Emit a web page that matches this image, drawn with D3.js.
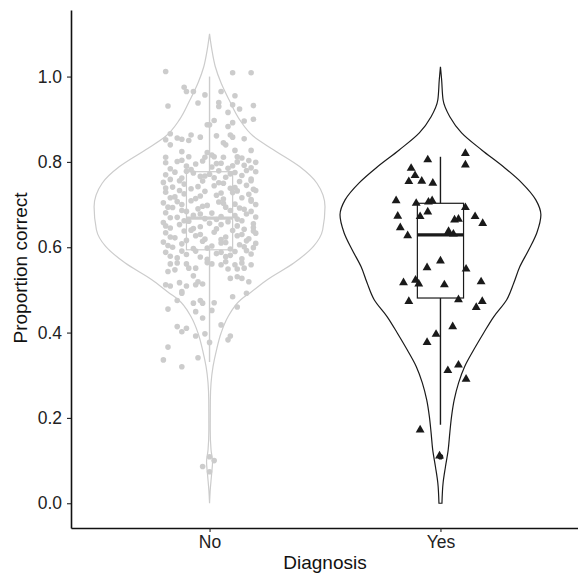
<!DOCTYPE html>
<html>
<head>
<meta charset="utf-8">
<script src="https://cdn.jsdelivr.net/npm/d3@7"></script>
<style>
  body { margin: 0; background: #fff; }
  text { font-family: "Liberation Sans", Arial, sans-serif; }
</style>
</head>
<body>
<svg id="chart" width="578" height="575"></svg>
<script>
// categories + tick labels
const categories = ["No", "Yes"];
const yTicks = [0, 0.2, 0.4, 0.6, 0.8, 1.0];

// violin outlines: [value, relative half-width]
const violinNo = [[1.100,0],[1.063,0.02],[1.023,0.05],[0.985,0.10],[0.945,0.17],[0.899,0.26],[0.860,0.38],
  [0.829,0.55],[0.789,0.78],[0.750,0.93],[0.695,1.00],[0.641,0.98],[0.602,0.90],[0.563,0.73],[0.524,0.50],
  [0.493,0.35],[0.477,0.27],[0.437,0.16],[0.399,0.10],[0.359,0.06],[0.320,0.03],[0.282,0.013],[0.242,0.007],
  [0.172,0.006],[0.125,0.013],[0.097,0.026],[0.066,0.017],[0.031,0.006],[0,0]];
const violinYes = [[1.023,0],[0.993,0.01],[0.945,0.023],[0.906,0.081],[0.868,0.183],[0.828,0.357],[0.788,0.548],
  [0.751,0.704],[0.711,0.826],[0.676,0.870],[0.634,0.835],[0.594,0.765],[0.554,0.687],[0.516,0.635],[0.477,0.574],
  [0.437,0.461],[0.399,0.374],[0.359,0.287],[0.320,0.209],[0.282,0.157],[0.242,0.119],[0.203,0.096],[0.165,0.081],
  [0.125,0.067],[0.085,0.043],[0.048,0.023],[0.0,0.013]];

// box stats per category
const whiskerLow = [0.331, 0.184];
const q1 = [0.594, 0.481];
const median = [0.668, 0.629];
const q3 = [0.777, 0.703];
const whiskerHigh = [1.0, 0.812];
const outliersYes = [0.109];

// jittered observations: [value, jitter in category units]
const pointsNo = [
  [1.012,-0.19],[1.009,0.10],[1.009,0.18],[0.975,-0.11],[0.965,-0.10],[0.965,-0.07],[0.957,-0.02],[0.965,0.05],
  [0.955,0.11],[0.931,-0.18],[0.938,-0.05],[0.939,0.04],[0.930,0.04],[0.934,0.10],[0.932,0.19],[0.924,0.13],
  [0.916,0.08],[0.897,0.02],[0.887,-0.01],[0.887,0.00],[0.892,0.10],[0.883,0.08],[0.896,0.15],[0.900,0.19],
  [0.863,-0.08],[0.858,-0.04],[0.861,0.03],[0.863,0.09],[0.858,0.10],[0.854,0.15],[0.866,-0.17],[0.856,-0.14],
  [0.852,-0.19],[0.853,-0.12],[0.850,-0.09],[0.840,-0.17],[0.845,0.06],[0.840,0.07],[0.827,0.18],[0.827,0.11],
  [0.824,-0.12],[0.822,-0.01],[0.816,0.01],[0.812,-0.09],[0.811,-0.02],[0.811,0.06],[0.812,0.12],[0.809,0.14],
  [0.811,-0.19],[0.812,0.02],
  [0.798,-0.19],[0.801,-0.14],[0.790,-0.10],[0.795,-0.06],[0.802,-0.03],[0.788,0.01],[0.797,0.05],[0.785,0.08],
  [0.800,0.12],[0.792,0.15],[0.786,0.18],[0.799,0.20],[0.784,-0.17],[0.782,-0.08],[0.796,0.03],[0.791,0.10],
  [0.803,0.17],[0.804,-0.12],
  [0.770,-0.19],[0.776,-0.15],[0.762,-0.12],[0.774,-0.07],[0.766,-0.04],[0.771,0.00],[0.779,0.04],[0.764,0.07],
  [0.775,0.11],[0.768,0.14],[0.760,0.18],[0.777,0.20],[0.759,-0.17],[0.778,-0.10],[0.763,0.02],[0.772,0.09],
  [0.780,0.16],[0.767,-0.02],
  [0.752,-0.20],[0.741,-0.16],[0.748,-0.11],[0.737,-0.08],[0.755,-0.03],[0.744,0.02],[0.750,0.06],[0.738,0.09],
  [0.754,0.13],[0.745,0.16],[0.736,0.19],[0.739,-0.19],[0.756,-0.13],[0.742,-0.05],[0.751,0.04],[0.740,0.11],
  [0.756,0.18],
  [0.729,-0.19],[0.718,-0.15],[0.725,-0.11],[0.714,-0.06],[0.731,-0.02],[0.722,0.03],[0.713,0.06],[0.728,0.10],
  [0.716,0.14],[0.724,0.17],[0.733,0.20],[0.716,-0.17],[0.733,-0.13],[0.720,-0.04],[0.727,0.05],[0.732,0.12],
  [0.712,0.18],
  [0.704,-0.20],[0.693,-0.16],[0.700,-0.12],[0.709,-0.08],[0.690,-0.05],[0.698,-0.01],[0.706,0.04],[0.694,0.07],
  [0.701,0.11],[0.689,0.15],[0.708,0.18],[0.694,-0.18],[0.707,-0.14],[0.696,-0.03],[0.703,0.06],[0.692,0.13],
  [0.700,0.20],
  [0.681,-0.19],[0.670,-0.14],[0.684,-0.10],[0.675,-0.07],[0.667,-0.02],[0.680,0.01],[0.672,0.05],[0.686,0.09],
  [0.666,0.12],[0.678,0.16],[0.671,0.20],[0.669,-0.17],[0.686,-0.12],[0.678,-0.04],[0.665,0.03],[0.674,0.11],
  [0.684,0.18],
  [0.658,-0.20],[0.645,-0.17],[0.653,-0.13],[0.661,-0.09],[0.648,-0.04],[0.656,0.00],[0.643,0.03],[0.660,0.08],
  [0.650,0.12],[0.642,0.15],[0.655,0.19],[0.650,-0.19],[0.662,-0.11],[0.644,-0.07],[0.653,0.05],[0.662,0.14],
  [0.646,0.19],
  [0.634,-0.19],[0.622,-0.15],[0.638,-0.11],[0.627,-0.06],[0.619,-0.02],[0.635,0.02],[0.624,0.07],[0.639,0.10],
  [0.630,0.14],[0.620,0.17],[0.633,0.20],[0.624,-0.17],[0.640,-0.08],[0.630,-0.04],[0.618,0.05],[0.627,0.12],
  [0.638,0.19],
  [0.612,-0.20],[0.600,-0.16],[0.608,-0.12],[0.597,-0.07],[0.614,-0.03],[0.603,0.01],[0.610,0.05],[0.596,0.09],
  [0.606,0.13],[0.615,0.16],[0.599,0.19],[0.604,-0.18],[0.616,-0.10],[0.598,-0.01],[0.611,0.07],[0.601,0.15],
  [0.609,0.20],
  [0.588,-0.19],[0.575,-0.14],[0.583,-0.10],[0.591,-0.06],[0.572,-0.01],[0.585,0.03],[0.578,0.07],[0.590,0.11],
  [0.573,0.14],[0.584,0.18],[0.579,-0.17],[0.591,-0.12],[0.577,-0.04],[0.588,0.05],[0.581,0.09],[0.592,0.16],
  [0.561,-0.17],[0.563,-0.14],[0.561,-0.10],[0.551,-0.06],[0.551,-0.09],[0.547,-0.15],[0.543,-0.18],[0.564,-0.01],
  [0.561,0.01],[0.559,0.05],[0.566,0.07],[0.559,0.11],[0.563,0.14],[0.559,0.18],[0.549,0.08],[0.549,0.12],
  [0.551,0.15],[0.531,0.12],[0.527,0.09],[0.527,0.14],[0.519,0.17],[0.512,-0.19],[0.509,-0.17],[0.517,-0.13],
  [0.509,-0.10],[0.496,-0.12],[0.492,-0.12],[0.533,-0.07],[0.519,-0.05],[0.514,-0.03],[0.512,-0.06],[0.484,0.10],
  [0.492,0.16],[0.475,-0.14],[0.455,-0.18],[0.469,-0.07],[0.475,-0.04],[0.469,-0.03],[0.470,0.02],[0.449,-0.06],
  [0.452,0.01],[0.460,0.12],[0.434,-0.03],[0.418,0.05],[0.414,-0.14],[0.410,-0.10],[0.402,-0.12],[0.392,-0.06],
  [0.397,-0.02],[0.392,0.09],[0.383,0.08],[0.377,0.00],[0.366,-0.18],[0.341,-0.05],[0.336,-0.20],[0.320,-0.12],
  [0.109,0.00],[0.100,0.02],[0.086,-0.03],[0.074,0.00]
];
const pointsYes = [
  [0.805,-0.055],[0.820,0.108],[0.793,0.108],[0.785,-0.127],[0.768,-0.110],[0.754,-0.137],[0.755,-0.081],
  [0.750,-0.033],[0.709,-0.192],[0.703,-0.105],[0.706,-0.052],[0.709,-0.036],[0.693,0.108],[0.673,-0.185],
  [0.672,-0.088],[0.683,-0.055],[0.672,0.150],[0.656,0.183],[0.664,0.061],[0.666,0.078],[0.646,-0.174],
  [0.627,-0.142],[0.637,0.035],[0.631,0.056],[0.568,0.000],[0.552,-0.058],[0.549,0.111],[0.517,-0.160],
  [0.523,-0.108],[0.514,-0.094],[0.512,0.017],[0.519,0.176],[0.473,-0.137],[0.477,0.078],[0.473,0.181],
  [0.459,0.155],[0.414,0.053],[0.396,-0.019],[0.377,-0.058],[0.311,0.032],[0.324,0.078],[0.291,0.111],
  [0.172,-0.088],[0.111,-0.004]
];

const colors = ["#cccccc", "#1a1a1a"];

const svg = d3.select("#chart");

const x = d3.scalePoint().domain(categories).range([71, 579]).padding(0.6);
const y = d3.scaleLinear().domain([-0.058, 1.156]).range([528, 10]);
const step = x.step();

// violins
[violinNo, violinYes].forEach((prof, i) => {
  const cx = x(categories[i]);
  const area = d3.area()
    .y(d => y(d[0]))
    .x0(d => cx - d[1] * 0.5 * step)
    .x1(d => cx + d[1] * 0.5 * step)
    .curve(d3.curveMonotoneY);
  svg.append("path")
    .attr("d", area(prof))
    .attr("fill", "none")
    .attr("stroke", colors[i])
    .attr("stroke-width", 1.2);
});

// boxes
const boxHalf = 0.1 * step;
categories.forEach((c, i) => {
  const cx = x(c);
  const g = svg.append("g").attr("stroke", colors[i]).attr("fill", "none");
  g.append("line").attr("x1", cx).attr("x2", cx).attr("y1", y(whiskerHigh[i])).attr("y2", y(q3[i])).attr("stroke-width", 1.4);
  g.append("line").attr("x1", cx).attr("x2", cx).attr("y1", y(q1[i])).attr("y2", y(whiskerLow[i])).attr("stroke-width", 1.4);
  g.append("rect").attr("x", cx - boxHalf).attr("width", 2 * boxHalf)
    .attr("y", y(q3[i])).attr("height", y(q1[i]) - y(q3[i])).attr("stroke-width", 1.2);
  g.append("line").attr("x1", cx - boxHalf).attr("x2", cx + boxHalf)
    .attr("y1", y(median[i])).attr("y2", y(median[i])).attr("stroke-width", 3.2);
});

svg.selectAll(".outlier").data(outliersYes).enter().append("circle")
  .attr("cx", x("Yes")).attr("cy", d => y(d)).attr("r", 2.8).attr("fill", colors[1]);

// jitter points
svg.append("g").selectAll("circle").data(pointsNo).enter().append("circle")
  .attr("cx", d => x("No") + d[1] * step)
  .attr("cy", d => y(d[0]))
  .attr("r", 2.8)
  .attr("fill", colors[0]);

const tri = d3.symbol().type(d3.symbolTriangle).size(34);
svg.append("g").selectAll("path").data(pointsYes).enter().append("path")
  .attr("d", tri)
  .attr("transform", d => `translate(${x("Yes") + d[1] * step},${y(d[0])})`)
  .attr("fill", colors[1]);

// axes
const yAxis = svg.append("g").attr("transform", "translate(71,0)")
  .call(d3.axisLeft(y).tickValues(yTicks).tickFormat(d3.format(".1f")).tickSize(4).tickSizeOuter(0).tickPadding(5));
const xAxis = svg.append("g").attr("transform", "translate(0,528)")
  .call(d3.axisBottom(x).tickSize(4).tickSizeOuter(0).tickPadding(4));

[yAxis, xAxis].forEach(ax => {
  ax.select(".domain").attr("stroke", "#111").attr("stroke-width", 1.6);
  ax.selectAll(".tick line").attr("stroke", "#222").attr("stroke-width", 1.1);
  ax.selectAll(".tick text").attr("fill", "#222").style("font-size", "17.5px")
    .style("font-family", "'Liberation Sans', Arial, sans-serif");
});

svg.append("text")
  .attr("transform", "translate(27,268) rotate(-90)")
  .attr("text-anchor", "middle")
  .attr("fill", "#111")
  .style("font-size", "19px")
  .text("Proportion correct");

svg.append("text")
  .attr("x", 325).attr("y", 569)
  .attr("text-anchor", "middle")
  .attr("fill", "#111")
  .style("font-size", "19px")
  .text("Diagnosis");
</script>
</body>
</html>
